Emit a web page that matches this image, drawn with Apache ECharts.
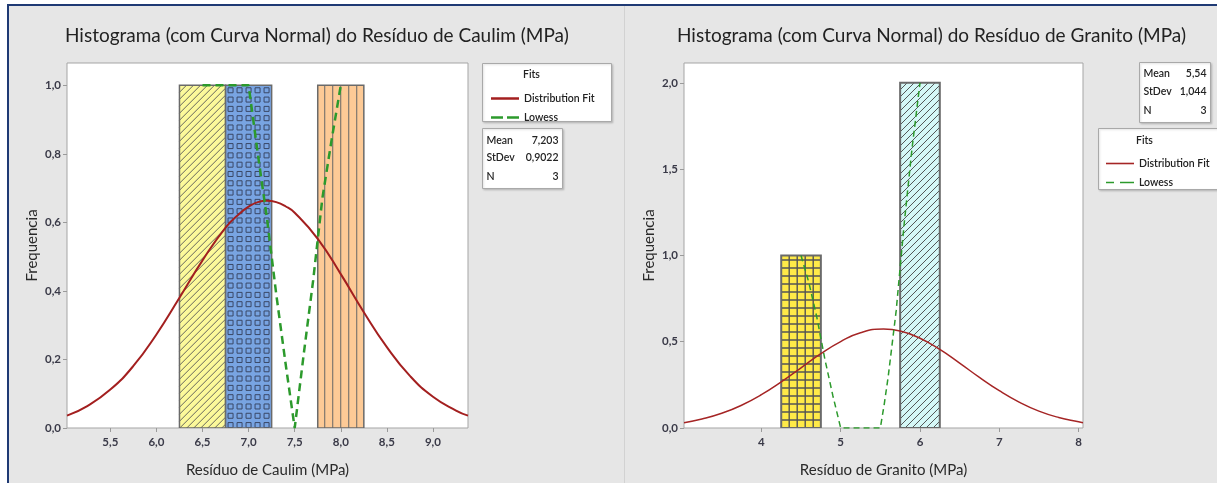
<!DOCTYPE html>
<html><head><meta charset="utf-8">
<script src="https://cdn.jsdelivr.net/npm/echarts@6/dist/echarts.min.js"></script>
<style>html,body{margin:0;padding:0;background:#fff}#c{width:1217px;height:483px}</style>
</head><body><div id="c"></div>
<script>
// ---------- DATA ----------
// Caulim (left)
const caulimBinStart = [6.25, 6.75, 7.75];
const caulimBinEnd   = [6.75, 7.25, 8.25];
const caulimCounts   = [1, 1, 1];
const caulimFitX = [5.03, 5.25, 5.5, 5.75, 6.0, 6.25, 6.5, 6.75, 6.9, 7.0, 7.1, 7.2, 7.3, 7.4, 7.5, 7.75, 8.0, 8.25, 8.5, 8.75, 9.0, 9.25, 9.38];
const caulimFitY = [0.036, 0.064, 0.112, 0.181, 0.273, 0.380, 0.489, 0.585, 0.625, 0.646, 0.659, 0.663, 0.659, 0.647, 0.628, 0.552, 0.449, 0.338, 0.236, 0.152, 0.091, 0.051, 0.036];
const caulimLowessX = [6.5, 7.0, 7.1, 7.2, 7.3, 7.4, 7.5, 7.6, 7.7, 7.8, 7.9, 8.0];
const caulimLowessY = [1.0, 1.0, 0.80, 0.61, 0.39, 0.19, 0.0, 0.22, 0.43, 0.67, 0.84, 1.0];
const caulimXTicks = [5.5, 6.0, 6.5, 7.0, 7.5, 8.0, 8.5, 9.0];
const caulimYTicks = [0, 0.2, 0.4, 0.6, 0.8, 1.0];
const caulimStatLabels = ['Mean', 'StDev', 'N'];
const caulimStatValues = ['7,203', '0,9022', '3'];

// Granito (right)
const granitoBinStart = [4.25, 5.75];
const granitoBinEnd   = [4.75, 6.25];
const granitoCounts   = [1, 2];
const granitoFitX = [3.024, 3.25, 3.5, 3.75, 4.0, 4.25, 4.5, 4.75, 5.0, 5.25, 5.54, 5.75, 6.0, 6.25, 6.5, 6.75, 7.0, 7.25, 7.5, 7.75, 8.0, 8.056];
const granitoFitY = [0.031, 0.052, 0.085, 0.132, 0.193, 0.267, 0.349, 0.431, 0.501, 0.552, 0.573, 0.562, 0.520, 0.455, 0.376, 0.293, 0.216, 0.150, 0.098, 0.061, 0.036, 0.031];
const granitoLowessX = [4.5, 4.6, 4.7, 4.8, 4.9, 5.0, 5.5, 5.55, 5.6, 5.7, 5.8, 5.9, 6.0];
const granitoLowessY = [1.0, 0.84, 0.64, 0.40, 0.19, 0.0, 0.0, 0.14, 0.30, 0.68, 1.18, 1.62, 2.0];
const granitoXTicks = [4, 5, 6, 7, 8];
const granitoYTicks = [0, 0.5, 1.0, 1.5, 2.0];
const granitoStatLabels = ['Mean', 'StDev', 'N'];
const granitoStatValues = ['5,54', '1,044', '3'];

// ---------- STYLES ----------
const FONT = 'Lato, "Noto Sans", sans-serif';
const RED = '#a31f1f', GREEN = '#2c9a2c';
const caulimBarStyles = [
  {fill:'#fcf99a', pattern:'diag', gap:7, color:'#555', lw:0.9},
  {fill:'#78a4e2', pattern:'squares', gap:9, color:'#3a4866', lw:1},
  {fill:'#fdca96', pattern:'vert', gap:8, color:'#666', lw:1}
];
const granitoBarStyles = [
  {fill:'#ffea48', pattern:'grid', gap:8, color:'#555', lw:1.4},
  {fill:'#d5f8f7', pattern:'diag', gap:7, color:'#444', lw:0.9}
];
const ICON_SOLID = 'path://M0,0h28v2.5h-28z';
const ICON_DASH = 'path://M0,0h12v2.5h-12z M16,0h12v2.5h-12z';
const ICON_SOLID_THIN = 'path://M0,0h28v1.6h-28z';
const ICON_DASH_THIN = 'path://M0,0h8v1.6h-8z M14,0h14v1.6h-14z';

const zip2 = (a, b) => a.map((v, i) => [v, b[i]]);
const zip3 = (a, b, c) => a.map((v, i) => [v, b[i], c[i]]);
const fmt1 = v => v.toFixed(1).replace('.', ',');
const fmt0 = v => String(Math.round(v));

function patternChildren(st, x, y, w, h) {
  const out = [];
  const ls = {stroke: st.color, lineWidth: st.lw};
  if (st.pattern === 'diag') {
    for (let c = x + y; c <= x + w + y + h; c += st.gap) {
      const xa = Math.max(x, c - (y + h)), xb = Math.min(x + w, c - y);
      if (xb <= xa) continue;
      out.push({type:'line', shape:{x1:xa, y1:c - xa, x2:xb, y2:c - xb}, style:ls});
    }
  } else if (st.pattern === 'vert') {
    for (let xx = x + st.gap - 1; xx < x + w - 1; xx += st.gap)
      out.push({type:'line', shape:{x1:xx, y1:y, x2:xx, y2:y + h}, style:ls});
  } else if (st.pattern === 'grid') {
    for (let xx = x + st.gap; xx < x + w - 2; xx += st.gap)
      out.push({type:'line', shape:{x1:xx, y1:y, x2:xx, y2:y + h}, style:ls});
    for (let yy = y + h - st.gap; yy > y + 2; yy -= st.gap)
      out.push({type:'line', shape:{x1:x, y1:yy, x2:x + w, y2:yy}, style:ls});
  } else if (st.pattern === 'squares') {
    const s = 5;
    for (let yy = y + 2.5; yy + s < y + h; yy += st.gap + 0.3)
      for (let xx = x + 2.5; xx + s < x + w; xx += st.gap)
        out.push({type:'rect', shape:{x:xx, y:yy, width:s, height:s}, style:{fill:null, stroke:st.color, lineWidth:st.lw}});
  }
  return out;
}

function makeBarRender(styles, borderW) {
  return function (params, api) {
    const a = api.coord([api.value(0), 0]);
    const b = api.coord([api.value(1), api.value(2)]);
    const x = a[0], y = b[1], w = b[0] - a[0], h = a[1] - b[1];
    const st = styles[params.dataIndex];
    return {
      type:'group',
      children: [
        {type:'rect', shape:{x, y, width:w, height:h}, style:{fill:st.fill}},
        ...patternChildren(st, x, y, w, h),
        {type:'rect', shape:{x, y, width:w, height:h}, style:{fill:null, stroke:'#6a6a6a', lineWidth:borderW}}
      ]
    };
  };
}

const SMALL = '600 10.5px ' + FONT;
function statBox(x, y, w, h, labels, values, rowY) {
  const els = [{type:'rect', shape:{x, y, width:w, height:h}, style:{fill:'#fff', stroke:'#a9a9a9', lineWidth:1, shadowColor:'rgba(0,0,0,0.15)', shadowBlur:2, shadowOffsetX:1, shadowOffsetY:1}, z:5}];
  labels.forEach((l, i) => {
    els.push({type:'text', x:x + 4, y:rowY[i], style:{text:l, font:SMALL, fill:'#222', textVerticalAlign:'middle'}, z:6});
    els.push({type:'text', x:x + w - 4, y:rowY[i], style:{text:values[i], font:SMALL, fill:'#222', textAlign:'right', textVerticalAlign:'middle'}, z:6});
  });
  return els;
}

const axisLabelStyle = {fontSize:11.5, fontWeight:'bold', color:'#3a3a48', fontFamily:FONT};
const nameStyle = {fontSize:15, color:'#2a2a2a', fontFamily:FONT};

function xAxisCfg(gi, min, max, ticks, fmt, name) {
  return {gridIndex:gi, type:'value', min, max, name, nameLocation:'middle', nameGap:35, nameTextStyle:nameStyle,
    axisLine:{show:false}, splitLine:{show:false},
    axisTick:{show:true, customValues:ticks, length:4, lineStyle:{color:'#9a9a9a'}},
    axisLabel:{customValues:ticks, formatter:fmt, margin:8, ...axisLabelStyle}};
}
function yAxisCfg(gi, min, max, ticks, name) {
  return {gridIndex:gi, type:'value', min, max, name, nameLocation:'middle', nameGap:27, nameTextStyle:nameStyle,
    axisLine:{show:false}, splitLine:{show:false},
    axisTick:{show:true, customValues:ticks, length:4, lineStyle:{color:'#9a9a9a'}},
    axisLabel:{customValues:ticks, formatter:fmt1, margin:6, ...axisLabelStyle}};
}

const legendText = {fontSize:10.5, fontWeight:600, color:'#222', fontFamily:FONT};

const chart = echarts.init(document.getElementById('c'));
chart.setOption({
  animation:false,
  backgroundColor:'#e6e6e6',
  title:[
    {text:'Histograma (com Curva Normal) do Resíduo de Caulim (MPa)', left:60, top:21, textStyle:{fontSize:19, fontWeight:'normal', color:'#222', fontFamily:FONT}},
    {text:'Histograma (com Curva Normal) do Resíduo de Granito (MPa)', left:672, top:21, textStyle:{fontSize:19, fontWeight:'normal', color:'#222', fontFamily:FONT}}
  ],
  grid:[
    {left:67, top:63, width:401, height:365, show:true, backgroundColor:'#fff', borderColor:'#a5a5a5', borderWidth:1},
    {left:684, top:63, width:399, height:365, show:true, backgroundColor:'#fff', borderColor:'#a5a5a5', borderWidth:1}
  ],
  xAxis:[
    xAxisCfg(0, 5.03, 9.38, caulimXTicks, fmt1, 'Resíduo de Caulim (MPa)'),
    xAxisCfg(1, 3.024, 8.056, granitoXTicks, fmt0, 'Resíduo de Granito (MPa)')
  ],
  yAxis:[
    yAxisCfg(0, 0, 1.065, caulimYTicks, 'Frequencia'),
    yAxisCfg(1, 0, 2.115, granitoYTicks, 'Frequencia')
  ],
  legend:[
    {data:[{name:'Distribution Fit · Caulim', icon:ICON_SOLID}, {name:'Lowess · Caulim', icon:ICON_DASH}],
     formatter:n => n.split(' · ')[0],
     orient:'vertical', left:486, top:88, itemWidth:28, itemHeight:10, itemGap:8, selectedMode:false, z:10,
     textStyle:legendText},
    {data:[{name:'Distribution Fit · Granito', icon:ICON_SOLID_THIN}, {name:'Lowess · Granito', icon:ICON_DASH_THIN}],
     formatter:n => n.split(' · ')[0],
     orient:'vertical', left:1101, top:153, itemWidth:28, itemHeight:10, itemGap:8, selectedMode:false, z:10,
     textStyle:legendText}
  ],
  graphic:[
    {type:'rect', shape:{x:0, y:0, width:1217, height:5}, style:{fill:'#fff'}, z:1},
    {type:'rect', shape:{x:0, y:0, width:7, height:483}, style:{fill:'#fff'}, z:1},
    {type:'line', shape:{x1:7, y1:5, x2:1217, y2:5}, style:{stroke:'#1f3a74', lineWidth:2}, z:2},
    {type:'line', shape:{x1:8, y1:5, x2:8, y2:483}, style:{stroke:'#1f3a74', lineWidth:2}, z:2},
    {type:'line', shape:{x1:624.5, y1:6, x2:624.5, y2:483}, style:{stroke:'#d2d2d2', lineWidth:1}, z:2},
    {type:'rect', shape:{x:482.5, y:63.5, width:129, height:58}, style:{fill:'#fff', stroke:'#a9a9a9', lineWidth:1, shadowColor:'rgba(0,0,0,0.15)', shadowBlur:2, shadowOffsetX:1, shadowOffsetY:1}, z:5},
    {type:'text', x:523, y:75, style:{text:'Fits', font:SMALL, fill:'#222', textVerticalAlign:'middle'}, z:6},
    {type:'rect', shape:{x:1098.5, y:128.5, width:125, height:61}, style:{fill:'#fff', stroke:'#a9a9a9', lineWidth:1, shadowColor:'rgba(0,0,0,0.15)', shadowBlur:2, shadowOffsetX:1, shadowOffsetY:1}, z:5},
    {type:'text', x:1136, y:141, style:{text:'Fits', font:SMALL, fill:'#222', textVerticalAlign:'middle'}, z:6},
    ...statBox(482.5, 128.5, 80, 60, caulimStatLabels, caulimStatValues, [141, 158, 177]),
    ...statBox(1139.5, 62.5, 71, 60, granitoStatLabels, granitoStatValues, [74, 92, 111])
  ],
  series:[
    {type:'custom', name:'Caulim bars', xAxisIndex:0, yAxisIndex:0, renderItem:makeBarRender(caulimBarStyles, 1.5),
     data:zip3(caulimBinStart, caulimBinEnd, caulimCounts), encode:{x:[0, 1], y:2}, z:2, clip:true},
    {type:'custom', name:'Granito bars', xAxisIndex:1, yAxisIndex:1, renderItem:makeBarRender(granitoBarStyles, 2),
     data:zip3(granitoBinStart, granitoBinEnd, granitoCounts), encode:{x:[0, 1], y:2}, z:2, clip:true},
    {type:'line', name:'Distribution Fit · Caulim', xAxisIndex:0, yAxisIndex:0, data:zip2(caulimFitX, caulimFitY),
     smooth:true, symbol:'none', itemStyle:{color:RED}, lineStyle:{color:RED, width:2}, z:3},
    {type:'line', name:'Lowess · Caulim', xAxisIndex:0, yAxisIndex:0, data:zip2(caulimLowessX, caulimLowessY),
     smooth:false, symbol:'none', itemStyle:{color:GREEN}, lineStyle:{color:GREEN, width:2.5, type:[8, 5]}, z:4},
    {type:'line', name:'Distribution Fit · Granito', xAxisIndex:1, yAxisIndex:1, data:zip2(granitoFitX, granitoFitY),
     smooth:true, symbol:'none', itemStyle:{color:'#a52525'}, lineStyle:{color:'#a52525', width:1.5}, z:3},
    {type:'line', name:'Lowess · Granito', xAxisIndex:1, yAxisIndex:1, data:zip2(granitoLowessX, granitoLowessY),
     smooth:false, symbol:'none', itemStyle:{color:GREEN}, lineStyle:{color:GREEN, width:1.5, type:[6, 4]}, z:4}
  ]
});
</script>
</body></html>
